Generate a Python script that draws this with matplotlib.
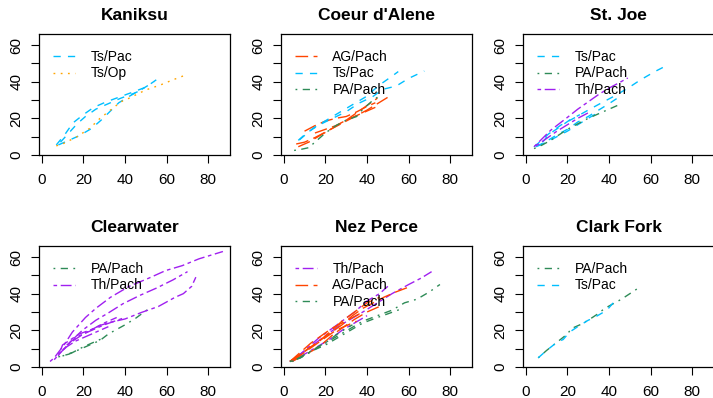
import matplotlib
matplotlib.use("Agg")
import matplotlib.pyplot as plt
from matplotlib.lines import Line2D

plt.rcParams['font.family'] = ['Liberation Sans', 'DejaVu Sans']

# ---------------- data (age vs height trajectories) ----------------
# Kaniksu
kan_tspac_x = [[7, 11, 15, 20, 25, 31, 37, 43, 50, 55],
               [9, 13, 17, 21, 26, 32, 38, 44, 49],
               [8, 12, 18, 24, 29, 33, 37, 42, 48, 54]]
kan_tspac_y = [[5.5, 11, 17.5, 22, 26, 29, 31.5, 34, 37, 41],
               [7, 12, 17, 21, 25, 28, 31, 33.5, 36],
               [5.5, 7.5, 10.5, 14.5, 19.5, 24, 28.5, 32, 35.8, 40]]
kan_tsop_x = [[7, 10, 17, 23, 28, 33, 38, 42, 50, 57, 63, 70]]
kan_tsop_y = [[5, 6, 10, 14.5, 20, 24.5, 29, 31, 35.5, 38.2, 41, 44]]

# Coeur d'Alene
cda_ag_x = [[6, 10, 15, 20, 25, 30, 35, 40, 45, 50],
            [10, 15, 20, 25, 30, 35, 40, 44],
            [7, 12, 18, 24, 30, 35, 40, 45],
            [15, 20, 25, 30, 35, 40, 44]]
cda_ag_y = [[6, 7, 9.5, 12.5, 15.5, 18.5, 21.5, 24.5, 28, 31.5],
            [13, 16, 18.5, 20, 21, 23.5, 26.5, 28.5],
            [4.5, 7, 11, 15, 19, 23, 27, 31],
            [12, 14, 16, 19, 21.5, 24, 26]]
cda_ts_x = [[7, 11, 17, 23.5, 30, 36, 42.7, 47.5, 54, 60, 67.5],
            [7.5, 14, 22, 31.5, 39.5, 46, 52, 55]]
cda_ts_y = [[8, 12, 16.4, 20, 23.6, 28.2, 31.8, 35.8, 37.6, 41.8, 45.8],
            [8.2, 14.5, 20, 26.4, 31.8, 38.2, 43, 45.5]]
cda_pa_x = [[5, 8, 12, 15, 20, 25, 30, 35, 38, 42, 45]]
cda_pa_y = [[2.5, 3, 4, 7, 12, 16, 19, 21, 25, 29, 31.5]]

# St. Joe
stj_ts_x = [[4, 6, 11, 17, 23, 30, 36, 42, 49, 55, 62, 68],
            [5, 10, 15, 20, 25, 30, 35, 40, 46],
            [6, 10, 15, 20, 25, 30, 36],
            [8, 12, 16, 21, 26]]
stj_ts_y = [[4.5, 6.4, 11.5, 16.4, 20, 24.5, 28.2, 31.8, 36.4, 40.9, 45.5, 49],
            [4.5, 7.5, 11, 14, 18, 21, 24.5, 28, 32.5],
            [5, 7, 10, 13, 16.5, 20, 24],
            [7, 12, 15, 19, 22]]
stj_pa_x = [[4, 8, 12, 16, 20, 25, 30, 35, 40, 46]]
stj_pa_y = [[3.5, 5.5, 8, 11, 14, 17, 20, 22.5, 25, 28]]
stj_th_x = [[4, 8, 12, 16, 20, 25, 30, 35, 40, 45, 49],
            [5, 10, 15, 20, 25, 30]]
stj_th_y = [[4.5, 9, 13.5, 17, 20.5, 25, 29, 33, 36.5, 39.5, 42],
            [5, 9, 13, 16.5, 20, 23]]

# Clearwater
clw_pa_x = [[8, 13, 18, 23, 28, 32, 36, 40, 45, 51],
            [10, 15, 20, 25, 30]]
clw_pa_y = [[5.5, 7, 9.5, 12, 14.5, 18, 20.5, 23, 26.5, 31.5],
            [6, 8, 11, 13.5, 16]]
clw_th_x = [[4, 6, 10.7, 14.7, 21, 26, 33, 42, 51.5, 59.5, 67.5, 75.5, 87],
            [6, 10, 14, 19.5, 26, 32, 39, 47, 55, 63, 70],
            [8, 10, 14, 18, 24, 28, 33, 40, 48, 56, 64, 68, 72, 74],
            [8, 12, 16, 20, 24, 28, 32],
            [10, 14, 18, 22, 26, 30, 35, 40],
            [12, 16, 20, 25, 30, 36]]
clw_th_y = [[3, 5, 12, 19, 27, 32, 38, 44, 48.5, 52.6, 55.3, 59, 63],
            [4, 9, 14, 20, 25.5, 29.5, 34.5, 39, 43, 47.5, 52],
            [6, 12, 15, 18, 20.5, 22.7, 24.4, 26.2, 29.8, 33, 38, 40, 44, 49],
            [7, 11, 14, 16, 18, 20, 22],
            [9, 14, 17, 19, 21, 23, 25, 27],
            [12, 15, 18, 21, 24, 27]]

# Nez Perce
nez_th_x = [[3, 8, 14, 20, 26, 32, 38, 45, 52, 60, 66, 71],
            [3, 7, 12, 17, 22, 28, 34, 40, 46, 50],
            [4, 10, 16, 22, 28, 34, 40]]
nez_th_y = [[3, 7, 12, 17, 22, 26, 30, 35, 40, 45, 48.5, 52],
            [3, 6, 11, 16, 20, 25, 30, 36, 40, 44],
            [3, 7, 11, 15, 20, 24, 28]]
nez_ag_x = [[3, 8, 13, 18, 23, 28, 33, 38, 43, 48, 54, 61],
            [3, 7, 12, 17, 22, 28, 34, 40, 46],
            [4, 9, 14, 19, 24, 29, 34, 40, 48],
            [3, 8, 13, 18, 23, 28, 33, 38],
            [5, 10, 15, 20, 25, 30, 35]]
nez_ag_y = [[3, 7, 11, 15, 19, 23, 28, 32, 35, 38, 41, 44],
            [3, 6, 10, 14, 19, 25, 30, 35, 38],
            [3, 6, 9, 13, 18, 22, 26, 30, 34],
            [3, 8, 13, 17, 21, 24, 27, 30],
            [4, 8, 12, 16, 20, 22.5, 25]]
nez_pa_x = [[3, 8, 14, 20, 26, 32, 38, 45, 52, 58, 64, 70, 75],
            [3, 8, 14, 20, 26, 32, 38, 45, 50, 56],
            [4, 9, 15, 21, 27, 33]]
nez_pa_y = [[3, 5, 9, 13, 17, 21, 25, 28, 31, 35, 37, 41, 45],
            [3, 5, 9, 12, 16, 20, 24, 27, 29, 31.5],
            [3, 6, 10, 14, 19, 23]]

# Clark Fork
clk_pa_x = [[6, 10, 15, 20, 22, 26, 30, 34, 38, 42, 46, 50, 54]]
clk_pa_y = [[5, 9, 13.5, 18, 21, 23, 25.5, 28.5, 32, 34.5, 37, 40, 43]]
clk_ts_x = [[6, 10, 15, 18, 21, 25, 30, 33, 36, 39, 42, 44]]
clk_ts_y = [[5, 9, 13.5, 15, 19, 22, 25.5, 27, 29, 31, 35, 37.5]]

titles = ["Kaniksu", "Coeur d'Alene", "St. Joe", "Clearwater", "Nez Perce", "Clark Fork"]
x_ticks = [0, 20, 40, 60, 80]
y_ticks = [0, 10, 20, 30, 40, 50, 60]
y_labels = ["0", "", "20", "", "40", "", "60"]

# ---------------- styles ----------------
STY = {
    "Ts/Pac": dict(color="#00BFFF", dashes=(5.2, 5.2)),
    "Ts/Op": dict(color="#FFA500", dashes=(1.3, 3.9)),
    "AG/Pach": dict(color="#FF4500", dashes=(9.1, 3.9)),
    "PA/Pach": dict(color="#2E8B57", dashes=(1.3, 3.9, 5.2, 3.9)),
    "Th/Pach": dict(color="#A020F0", dashes=(2.6, 2.6, 7.8, 2.6)),
}

panels = [
    [("Ts/Pac", kan_tspac_x, kan_tspac_y), ("Ts/Op", kan_tsop_x, kan_tsop_y)],
    [("AG/Pach", cda_ag_x, cda_ag_y), ("Ts/Pac", cda_ts_x, cda_ts_y), ("PA/Pach", cda_pa_x, cda_pa_y)],
    [("Ts/Pac", stj_ts_x, stj_ts_y), ("PA/Pach", stj_pa_x, stj_pa_y), ("Th/Pach", stj_th_x, stj_th_y)],
    [("PA/Pach", clw_pa_x, clw_pa_y), ("Th/Pach", clw_th_x, clw_th_y)],
    [("Th/Pach", nez_th_x, nez_th_y), ("AG/Pach", nez_ag_x, nez_ag_y), ("PA/Pach", nez_pa_x, nez_pa_y)],
    [("PA/Pach", clk_pa_x, clk_pa_y), ("Ts/Pac", clk_ts_x, clk_ts_y)],
]

W, H = 713, 398
fig = plt.figure(figsize=(W / 100, H / 100), dpi=100)

lefts = [39, 281, 523]
tops = [34, 246]
pw, ph = 191, 121
LW = 1.0

for i, (title, groups) in enumerate(zip(titles, panels)):
    r, c = divmod(i, 3)
    ax = fig.add_axes([lefts[c] / W, (H - tops[r] - ph) / H, pw / W, ph / H])
    for name, xs, ys in groups:
        st = STY[name]
        for x, y in zip(xs, ys):
            ax.plot(x, y, color=st["color"], lw=LW, dashes=st["dashes"])
    handles = [Line2D([0], [0], color=STY[n]["color"], lw=LW, dashes=STY[n]["dashes"])
               for n, _, _ in groups]
    ax.legend(handles, [n for n, _, _ in groups], loc="upper left",
              bbox_to_anchor=(0.073, 0.865), frameon=False, borderpad=0,
              borderaxespad=0, handlelength=1.6, handletextpad=1.1,
              labelspacing=0.15, fontsize=10)
    ax.set_xlim(-1.3, 90.4)
    ax.set_ylim(0, 66)
    ax.set_xticks(x_ticks)
    ax.set_xticklabels([str(t) for t in x_ticks])
    ax.set_yticks(y_ticks)
    ax.set_yticklabels(y_labels, rotation=90, va="center")
    ax.tick_params(direction="out", length=5.5, width=0.8, labelsize=11,
                   colors="black")
    ax.tick_params(axis="x", pad=7.5)
    ax.tick_params(axis="y", pad=5.5)
    for sp in ax.spines.values():
        sp.set_linewidth(0.9)
    ax.set_title(title, fontsize=12.5, fontweight="bold", pad=10)

fig.savefig("out.png", dpi=100)
